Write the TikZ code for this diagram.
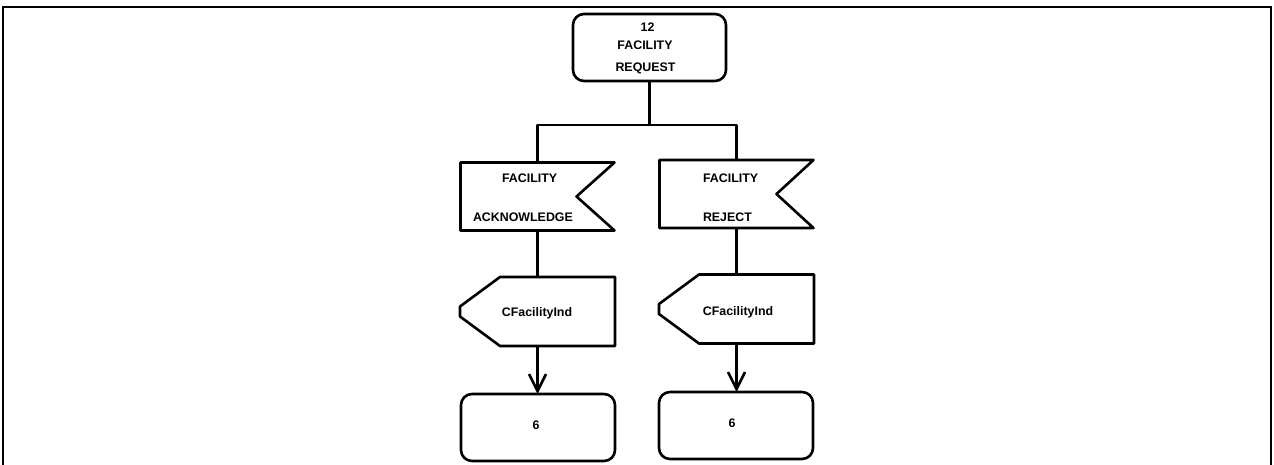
\documentclass[tikz,border=0pt]{standalone}
\usepackage{fontspec}
\setmainfont{Liberation Sans}
\usetikzlibrary{arrows.meta}
\begin{document}
\begin{tikzpicture}[x=1pt,y=-1pt,
  every node/.style={inner sep=0pt,outer sep=0pt},
  lbl/.style={font=\fontsize{12.4}{14}\selectfont\bfseries},
  stroke/.style={line width=2.6pt,line join=round},
  state/.style={draw,stroke,rounded corners=11pt,minimum width=#1,minimum height=67pt},
  slot/.style={minimum width=155pt,minimum height=68pt},
  conn/.style={stroke},
  arr/.style={stroke,-{Straight Barb[length=17pt,width=17pt,line width=2.6pt]}}]
\useasboundingbox (0,0) rectangle (1274,465);
% page frame, open at the bottom
\draw[line width=1.6pt] (3,465) -- (3,7) -- (1271,7) -- (1271,465);

% start state
\node[state=153pt] (req) at (649.5,47.5) {};
\node[lbl] (reqn) at (647.5,27) {12};
\node[lbl] (reqa) at (645,45.5) {FACILITY};
\node[lbl] (reqb) at (645.5,68) {REQUEST};

% input signals (flag shapes with notch on the right)
\node[slot] (ack) at (538,196.5) {};
\draw[stroke] (ack.north west) -- ([xshift=-1pt]ack.north east) -- ([xshift=-39pt]ack.east)
  -- ([xshift=-1pt]ack.south east) -- (ack.south west) -- cycle;
\node[lbl,anchor=west] (acka) at (502,178) {FACILITY};
\node[lbl,anchor=west] (ackb) at (473,217) {ACKNOWLEDGE};

\node[slot] (rej) at (737,194) {};
\draw[stroke] (rej.north west) -- ([xshift=-1pt]rej.north east) -- ([xshift=-38pt]rej.east)
  -- ([xshift=-1pt]rej.south east) -- (rej.south west) -- cycle;
\node[lbl,anchor=west] (reja) at (703,178) {FACILITY};
\node[lbl,anchor=west] (rejb) at (703,217) {REJECT};

% output signals (pointed on the left)
\node[slot,minimum height=69pt] (outa) at (537.5,311.5) {};
\draw[stroke] ([xshift=40pt]outa.north west) -- (outa.north east) -- (outa.south east)
  -- ([xshift=40pt]outa.south west) -- ([yshift=-5pt]outa.west) -- ([yshift=5pt]outa.west) -- cycle;
\node[lbl] (outat) at (537,313) {CFacilityInd};

\node[slot,minimum height=69pt] (outb) at (736.5,309) {};
\draw[stroke] ([xshift=40pt]outb.north west) -- (outb.north east) -- (outb.south east)
  -- ([xshift=40pt]outb.south west) -- ([yshift=-5pt]outb.west) -- ([yshift=5pt]outb.west) -- cycle;
\node[lbl] (outbt) at (738,312) {CFacilityInd};

% next states
\node[state=154pt] (nxa) at (538,427.5) {};
\node[lbl] (nxat) at (536,425) {6};
\node[state=154pt] (nxb) at (736,425.5) {};
\node[lbl] (nxbt) at (732,423) {6};

% connectors
\coordinate (split) at (649.5,125);
\draw[conn] (req.south) -- (split);
\draw[conn] ([xshift=-0.5pt]ack.north) |- (split) -| ([xshift=-0.5pt]rej.north);
\draw[conn] ([xshift=-0.5pt]ack.south) -- (outa.north);
\draw[conn] ([xshift=-0.5pt]rej.south) -- (outb.north);
\draw[arr] (outa.south) -- (outa.south |- nxa.north);
\draw[arr] (outb.south) -- (outb.south |- nxb.north);
\end{tikzpicture}
\end{document}
